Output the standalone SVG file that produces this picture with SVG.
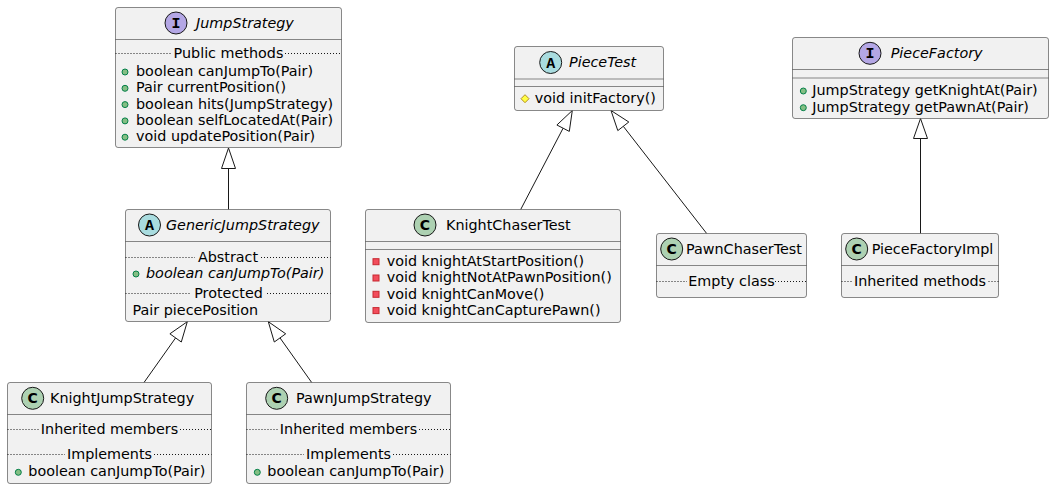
<svg xmlns="http://www.w3.org/2000/svg" width="1054" height="489" viewBox="0 0 1054 489">
<style>
.box{fill:#F1F1F1;stroke:#181818;stroke-width:0.5}
.sep{stroke:#181818;stroke-width:0.5}
.dot{stroke:#181818;stroke-width:1;stroke-dasharray:1,2}
.t{font-family:"DejaVu Sans",sans-serif;font-size:14.35px;fill:#000}
.i{font-style:italic}
.m{text-anchor:middle}
.icI{fill:#B4A7E5;stroke:#181818;stroke-width:1}
.icA{fill:#A9DCDF;stroke:#181818;stroke-width:1}
.icC{fill:#ADD1B2;stroke:#181818;stroke-width:1}
.lt{font-family:"Liberation Mono",monospace;font-weight:bold;font-size:15px;text-anchor:middle;fill:#000}
.lc{font-family:"DejaVu Sans",sans-serif;font-weight:bold;font-size:14px;text-anchor:middle;fill:#000}
.pub{fill:#84BE84;stroke:#038048;stroke-width:1}
.pri{fill:#F24D5C;stroke:#C82930;stroke-width:1}
.pro{fill:#FFFF44;stroke:#B38D22;stroke-width:1}
.ln{stroke:#181818;stroke-width:1;fill:none}
.ah{fill:#FFFFFF;stroke:#181818;stroke-width:1}
</style>
<g id="connectors">
<line class="ln" x1="228.5" y1="168.5" x2="228.5" y2="209.5"/>
<polygon class="ah" points="228.5,148 221.5,168.5 235.5,168.5"/>
<line class="ln" x1="175.6" y1="337.9" x2="144" y2="382.5"/>
<polygon class="ah" points="187.3,321.7 181.3,342 169.9,333.8"/>
<line class="ln" x1="280" y1="337.9" x2="311.7" y2="382.5"/>
<polygon class="ah" points="268.3,321.7 285.7,333.8 274.3,342"/>
<line class="ln" x1="563.1" y1="128.2" x2="520.7" y2="209.5"/>
<polygon class="ah" points="572.3,110.5 569.3,131.4 556.9,125"/>
<line class="ln" x1="623.3" y1="126.3" x2="706.7" y2="233.5"/>
<polygon class="ah" points="611,110.5 628.8,122 617.8,130.6"/>
<line class="ln" x1="920.5" y1="138.5" x2="920.5" y2="233.5"/>
<polygon class="ah" points="920.5,118.5 913.5,138.5 927.5,138.5"/>
</g>
<g id="JumpStrategy">
<rect class="box" x="115.5" y="7.5" width="226" height="140" rx="2.5"/>
<line class="sep" x1="115.5" y1="39.5" x2="341.5" y2="39.5"/>
<circle class="icI" cx="176" cy="23" r="11"/>
<text class="lt" x="176" y="28">I</text>
<text class="t i" x="196" y="28">JumpStrategy</text>
<line class="dot" x1="115.5" y1="53.5" x2="171" y2="53.5"/>
<line class="dot" x1="285" y1="53.5" x2="341.5" y2="53.5"/>
<text class="t m" x="228.5" y="58">Public methods</text>
<circle class="pub" cx="125" cy="72" r="3"/>
<text class="t" x="136" y="76">boolean canJumpTo(Pair)</text>
<circle class="pub" cx="125" cy="88.3" r="3"/>
<text class="t" x="136" y="92.3">Pair currentPosition()</text>
<circle class="pub" cx="125" cy="104.6" r="3"/>
<text class="t" x="136" y="108.6">boolean hits(JumpStrategy)</text>
<circle class="pub" cx="125" cy="120.9" r="3"/>
<text class="t" x="136" y="124.9">boolean selfLocatedAt(Pair)</text>
<circle class="pub" cx="125" cy="137.2" r="3"/>
<text class="t" x="136" y="141.2">void updatePosition(Pair)</text>
</g>
<g id="GenericJumpStrategy">
<rect class="box" x="125.5" y="209.5" width="205" height="112" rx="2.5"/>
<line class="sep" x1="125.5" y1="241.5" x2="330.5" y2="241.5"/>
<circle class="icA" cx="149.5" cy="225" r="11"/>
<text class="lt" x="149.5" y="230">A</text>
<text class="t i" x="166" y="230">GenericJumpStrategy</text>
<line class="dot" x1="125.5" y1="257.5" x2="195" y2="257.5"/>
<line class="dot" x1="261" y1="257.5" x2="330.5" y2="257.5"/>
<text class="t m" x="228" y="261.5">Abstract</text>
<circle class="pub" cx="136" cy="274" r="3"/>
<text class="t i" x="146" y="278">boolean canJumpTo(Pair)</text>
<line class="dot" x1="125.5" y1="293.5" x2="190.5" y2="293.5"/>
<line class="dot" x1="267" y1="293.5" x2="330.5" y2="293.5"/>
<text class="t m" x="228.5" y="298">Protected</text>
<text class="t" x="132.5" y="314.5">Pair piecePosition</text>
</g>
<g id="KnightJumpStrategy">
<rect class="box" x="7.5" y="382.5" width="204" height="101" rx="2.5"/>
<line class="sep" x1="7.5" y1="414.5" x2="211.5" y2="414.5"/>
<circle class="icC" cx="32.7" cy="398.3" r="11"/>
<text class="lc" x="32.7" y="403.3">C</text>
<text class="t" x="50" y="403.3">KnightJumpStrategy</text>
<line class="dot" x1="7.5" y1="429.5" x2="39" y2="429.5"/>
<line class="dot" x1="180" y1="429.5" x2="211.5" y2="429.5"/>
<text class="t m" x="109.5" y="434">Inherited members</text>
<line class="dot" x1="7.5" y1="454.5" x2="65" y2="454.5"/>
<line class="dot" x1="154" y1="454.5" x2="211.5" y2="454.5"/>
<text class="t m" x="109.5" y="459">Implements</text>
<circle class="pub" cx="18.3" cy="472.3" r="3"/>
<text class="t" x="28.3" y="476.3">boolean canJumpTo(Pair)</text>
</g>
<g id="PawnJumpStrategy">
<rect class="box" x="246.5" y="382.5" width="204" height="101" rx="2.5"/>
<line class="sep" x1="246.5" y1="414.5" x2="450.5" y2="414.5"/>
<circle class="icC" cx="276.7" cy="398.3" r="11"/>
<text class="lc" x="276.7" y="403.3">C</text>
<text class="t" x="296" y="403.3">PawnJumpStrategy</text>
<line class="dot" x1="246.5" y1="429.5" x2="278" y2="429.5"/>
<line class="dot" x1="419" y1="429.5" x2="450.5" y2="429.5"/>
<text class="t m" x="348.5" y="434">Inherited members</text>
<line class="dot" x1="246.5" y1="454.5" x2="304" y2="454.5"/>
<line class="dot" x1="393" y1="454.5" x2="450.5" y2="454.5"/>
<text class="t m" x="348.5" y="459">Implements</text>
<circle class="pub" cx="257.3" cy="472.3" r="3"/>
<text class="t" x="267.3" y="476.3">boolean canJumpTo(Pair)</text>
</g>
<g id="PieceTest">
<rect class="box" x="514.5" y="46.5" width="149" height="64" rx="2.5"/>
<line class="sep" x1="514.5" y1="79" x2="663.5" y2="79"/>
<line class="sep" x1="514.5" y1="86.5" x2="663.5" y2="86.5"/>
<circle class="icA" cx="550.7" cy="62.5" r="11"/>
<text class="lt" x="550.7" y="67.5">A</text>
<text class="t i" x="569" y="67">PieceTest</text>
<polygon class="pro" points="525,94.7 529,98.7 525,102.7 521,98.7"/>
<text class="t" x="534.7" y="103">void initFactory()</text>
</g>
<g id="KnightChaserTest">
<rect class="box" x="365.5" y="209.5" width="255" height="113" rx="2.5"/>
<line class="sep" x1="365.5" y1="241.5" x2="620.5" y2="241.5"/>
<line class="sep" x1="365.5" y1="249.5" x2="620.5" y2="249.5"/>
<circle class="icC" cx="425" cy="225" r="11"/>
<text class="lc" x="425" y="230">C</text>
<text class="t" x="446" y="230">KnightChaserTest</text>
<rect class="pri" x="373" y="258.7" width="6" height="6"/>
<text class="t" x="386.7" y="266">void knightAtStartPosition()</text>
<rect class="pri" x="373" y="275" width="6" height="6"/>
<text class="t" x="386.7" y="282.3">void knightNotAtPawnPosition()</text>
<rect class="pri" x="373" y="291.3" width="6" height="6"/>
<text class="t" x="386.7" y="298.6">void knightCanMove()</text>
<rect class="pri" x="373" y="307.6" width="6" height="6"/>
<text class="t" x="386.7" y="314.9">void knightCanCapturePawn()</text>
</g>
<g id="PawnChaserTest">
<rect class="box" x="656.5" y="233.5" width="150" height="64" rx="2.5"/>
<line class="sep" x1="656.5" y1="265.5" x2="806.5" y2="265.5"/>
<circle class="icC" cx="671.7" cy="249" r="11"/>
<text class="lc" x="671.7" y="254">C</text>
<text class="t" x="686" y="254">PawnChaserTest</text>
<line class="dot" x1="656.5" y1="281.5" x2="687" y2="281.5"/>
<line class="dot" x1="775" y1="281.5" x2="806.5" y2="281.5"/>
<text class="t m" x="731.5" y="286">Empty class</text>
</g>
<g id="PieceFactory">
<rect class="box" x="792.5" y="37.5" width="256" height="81" rx="2.5"/>
<line class="sep" x1="792.5" y1="69.5" x2="1048.5" y2="69.5"/>
<line class="sep" x1="792.5" y1="78" x2="1048.5" y2="78"/>
<circle class="icI" cx="870" cy="53.3" r="11"/>
<text class="lt" x="870" y="58.3">I</text>
<text class="t i" x="890.7" y="58.3">PieceFactory</text>
<circle class="pub" cx="803.3" cy="91" r="3"/>
<text class="t" x="812.3" y="95">JumpStrategy getKnightAt(Pair)</text>
<circle class="pub" cx="803.3" cy="107.7" r="3"/>
<text class="t" x="812.3" y="111.7">JumpStrategy getPawnAt(Pair)</text>
</g>
<g id="PieceFactoryImpl">
<rect class="box" x="841.5" y="233.5" width="157" height="64" rx="2.5"/>
<line class="sep" x1="841.5" y1="265.5" x2="998.5" y2="265.5"/>
<circle class="icC" cx="856.7" cy="249" r="11"/>
<text class="lc" x="856.7" y="254">C</text>
<text class="t" x="871.7" y="254">PieceFactoryImpl</text>
<line class="dot" x1="841.5" y1="281.5" x2="851.5" y2="281.5"/>
<line class="dot" x1="988.5" y1="281.5" x2="998.5" y2="281.5"/>
<text class="t m" x="920" y="286">Inherited methods</text>
</g>
</svg>
